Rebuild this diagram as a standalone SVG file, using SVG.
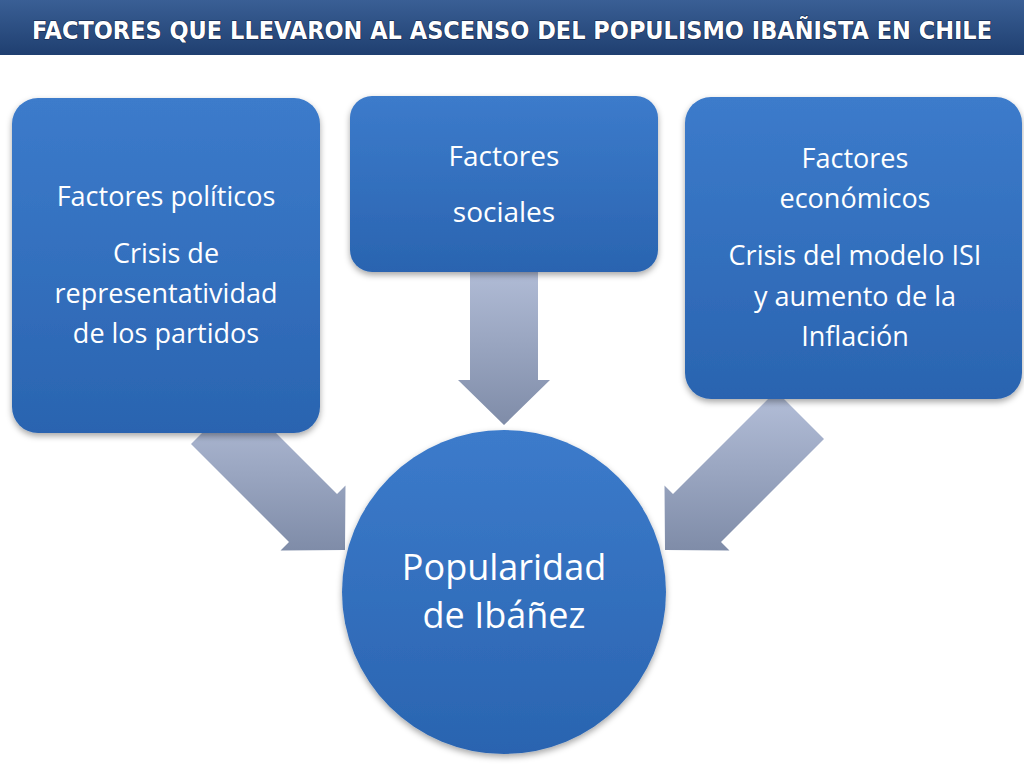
<svg xmlns="http://www.w3.org/2000/svg" width="1024" height="768" viewBox="0 0 1024 768">
<defs>
<linearGradient id="tb" x1="0" y1="0" x2="0" y2="1"><stop offset="0" stop-color="#3a5f95"/><stop offset="1" stop-color="#1f3f70"/></linearGradient>
<linearGradient id="bx" x1="0" y1="0" x2="0" y2="1"><stop offset="0" stop-color="#3c7bcb"/><stop offset="1" stop-color="#2a64b0"/></linearGradient>
<linearGradient id="ar" x1="0" y1="0" x2="0" y2="1"><stop offset="0" stop-color="#b4bfd9"/><stop offset="1" stop-color="#7f8ca8"/></linearGradient>
<filter id="sh" x="-10%" y="-10%" width="120%" height="130%"><feDropShadow dx="0" dy="3" stdDeviation="3" flood-opacity="0.35"/></filter>
</defs>
<style>
.box{fill:url(#bx);filter:url(#sh)}
.t{font-family:"Open Sans","Liberation Sans",sans-serif;fill:#fff;text-anchor:middle}
.ar{fill:url(#ar)}
</style>
<rect width="1024" height="768" fill="#fff"/>
<rect width="1024" height="55" fill="url(#tb)"/>
<text x="512" y="39" font-family="'DejaVu Sans Condensed','DejaVu Sans',sans-serif" font-weight="bold" font-size="25" fill="#fff" text-anchor="middle" textLength="960" lengthAdjust="spacingAndGlyphs" style="paint-order:stroke" stroke="#102040" stroke-width="1">FACTORES QUE LLEVARON AL ASCENSO DEL POPULISMO IBAÑISTA EN CHILE</text>
<g id="connectors">
<polygon class="ar" points="470,260 538,260 538,380 550,380 504,425 458,380 470,380"/>
<polygon class="ar" points="239,396 337,494 345.5,485.5 345,550 280.5,550.5 289,542 191,444"/>
<polygon class="ar" points="824,439 721,542 729.5,550.5 665,550 664.5,485.5 673,494 776,391"/>
</g>
<g id="politicos">
<rect class="box" x="12" y="98" width="308" height="335" rx="26"/>
<text class="t" font-size="27" x="166" y="206">Factores políticos</text>
<text class="t" font-size="27" x="166" y="263">Crisis de</text>
<text class="t" font-size="27" x="166" y="303">representatividad</text>
<text class="t" font-size="27" x="166" y="343">de los partidos</text>
</g>
<g id="sociales">
<rect class="box" x="350" y="96" width="308" height="176" rx="22"/>
<text class="t" font-size="28" x="504" y="166">Factores</text>
<text class="t" font-size="28" x="504" y="222">sociales</text>
</g>
<g id="economicos">
<rect class="box" x="685" y="97" width="337" height="302" rx="26"/>
<text class="t" font-size="27" x="855" y="168">Factores</text>
<text class="t" font-size="27" x="855" y="208">económicos</text>
<text class="t" font-size="27" x="855" y="265">Crisis del modelo ISI</text>
<text class="t" font-size="27" x="855" y="306">y aumento de la</text>
<text class="t" font-size="27" x="855" y="346">Inflación</text>
</g>
<g id="popularidad">
<circle cx="504" cy="592" r="162" class="box"/>
<text class="t" font-size="36" x="504" y="580">Popularidad</text>
<text class="t" font-size="36" x="504" y="628">de Ibáñez</text>
</g>
</svg>
